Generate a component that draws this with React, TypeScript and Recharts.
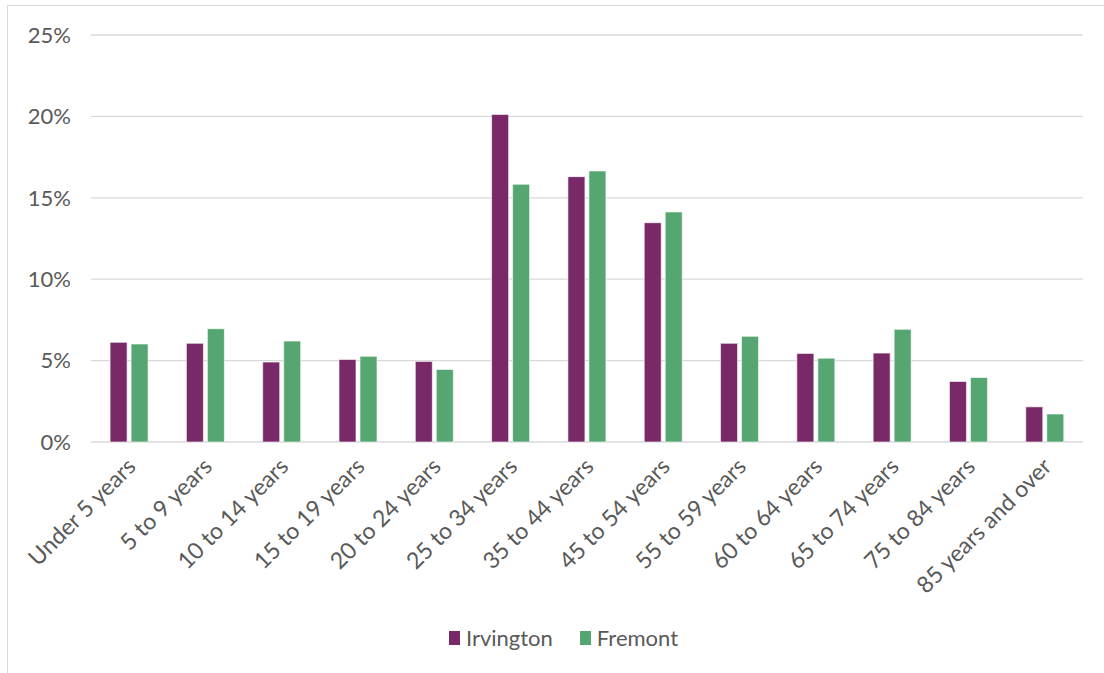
import { Bar, BarChart, CartesianGrid, Legend, XAxis, YAxis } from "recharts"

// Age distribution, share of population (%)
const ageGroups = [
  "Under 5 years",
  "5 to 9 years",
  "10 to 14 years",
  "15 to 19 years",
  "20 to 24 years",
  "25 to 34 years",
  "35 to 44 years",
  "45 to 54 years",
  "55 to 59 years",
  "60 to 64 years",
  "65 to 74 years",
  "75 to 84 years",
  "85 years and over",
]
const irvington = [6.12, 6.06, 4.91, 5.07, 4.95, 20.12, 16.3, 13.47, 6.06, 5.44, 5.46, 3.72, 2.16]
const fremont = [6.02, 6.96, 6.2, 5.26, 4.46, 15.83, 16.65, 14.13, 6.49, 5.15, 6.92, 3.96, 1.72]
const seriesNames = ["Irvington", "Fremont"]
const yTicks = [0, 5, 10, 15, 20, 25]

const data = ageGroups.map((group, i) => ({
  group,
  Irvington: irvington[i],
  Fremont: fremont[i],
}))

const PURPLE = "#7a2968"
const GREEN = "#56a672"
const TEXT = "#595959"
const FONT = "Lato, 'Open Sans', sans-serif"

function AgeTick({ x, y, payload }: any) {
  const ax = x + 8
  const ay = y + 18
  return (
    <text
      x={ax}
      y={ay}
      transform={`rotate(-45, ${ax}, ${ay})`}
      textAnchor="end"
      fill={TEXT}
      fontSize={23}
      fontFamily={FONT}
    >
      {payload.value}
    </text>
  )
}

function LegendBox({ payload }: any) {
  // keep series order, not alphabetical
  const items = seriesNames
    .map((name) => (payload || []).find((p: any) => p.value === name))
    .filter(Boolean)
  return (
    <div
      style={{
        display: "flex",
        justifyContent: "center",
        gap: 27,
        fontFamily: FONT,
        fontSize: 22,
        color: TEXT,
        transform: "translateX(22px)",
      }}
    >
      {items.map((p: any) => (
        <span key={p.value} style={{ display: "flex", alignItems: "center", gap: 6 }}>
          <span style={{ width: 11, height: 14, background: p.color, display: "inline-block" }} />
          {p.value}
        </span>
      ))}
    </div>
  )
}

export default function App() {
  return (
    <div style={{ position: "absolute", left: 0, top: 0, width: 1104, height: 673, background: "#fff" }}>
      <div
        style={{
          position: "absolute",
          left: 7,
          top: 5,
          width: 1097,
          height: 668,
          borderLeft: "1px solid #d9d9d9",
          borderTop: "1px solid #d9d9d9",
          boxSizing: "border-box",
        }}
      />
      <BarChart
        width={1104}
        height={673}
        data={data}
        margin={{ top: 35, right: 21, left: 0, bottom: 22 }}
        barCategoryGap="25%"
        barGap={4}
        style={{ position: "absolute", left: 0, top: 0 }}
      >
        <CartesianGrid vertical={false} stroke="#d9d9d9" strokeWidth={1.3} />
        <XAxis
          dataKey="group"
          interval={0}
          axisLine={false}
          tickLine={false}
          height={182}
          tick={<AgeTick />}
        />
        <YAxis
          width={91}
          domain={[0, 25]}
          ticks={yTicks}
          axisLine={false}
          tickLine={false}
          tickMargin={14}
          tickFormatter={(v) => `${v}%`}
          tick={{ fill: TEXT, fontSize: 22, fontFamily: FONT }}
        />
        <Legend verticalAlign="bottom" content={<LegendBox />} />
        <Bar dataKey="Irvington" fill={PURPLE} stroke="#fff" strokeWidth={0.6} isAnimationActive={false} />
        <Bar dataKey="Fremont" fill={GREEN} stroke="#fff" strokeWidth={0.6} isAnimationActive={false} />
      </BarChart>
    </div>
  )
}
